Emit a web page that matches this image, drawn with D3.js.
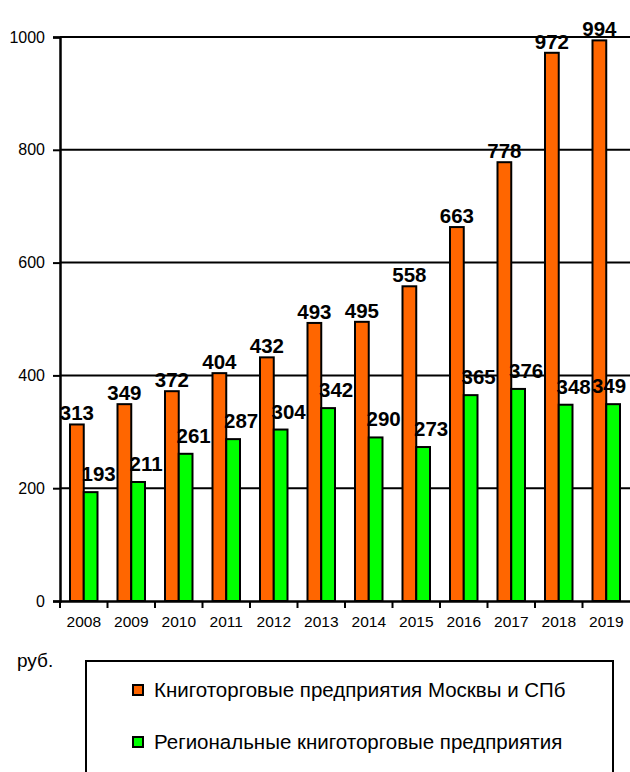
<!DOCTYPE html>
<html>
<head>
<meta charset="utf-8">
<script src="https://cdn.jsdelivr.net/npm/d3@7"></script>
<style>
  body { margin: 0; background: #fff; }
  svg { display: block; font-family: Arial, "Liberation Sans", sans-serif; }
</style>
</head>
<body>
<div id="container"></div>
<script>
var years = ["2008", "2009", "2010", "2011", "2012", "2013",
             "2014", "2015", "2016", "2017", "2018", "2019"];
var moscowValues = [313, 349, 372, 404, 432, 493, 495, 558, 663, 778, 972, 994];
var regionValues = [193, 211, 261, 287, 304, 342, 290, 273, 365, 376, 348, 349];
var seriesNames = ["Книготорговые предприятия Москвы и СПб",
                   "Региональные книготорговые предприятия"];
var seriesColors = ["#ff6600", "#00ff00"];
var yTicks = [0, 200, 400, 600, 800, 1000];
var unitLabel = "руб.";

var fontFamily = "Arial, 'Liberation Sans', sans-serif";

function createChart() {
  var chartWidth = 630, chartHeight = 772;

  var chart = d3.select("#container").
  append("svg").
  attr("width", chartWidth).
  attr("height", chartHeight);

  var x = d3.scaleBand().domain(years).range([60, 630]);
  // two bars inside each year
  var xInner = d3.scaleBand().domain([0, 1]).range([10, x.bandwidth() - 10]);
  var y = d3.scaleLinear().domain([0, 1000]).range([601, 37]);

  // gridlines
  chart.append("g").
  selectAll("line").
  data(yTicks.slice(1)).
  enter().
  append("line").
  attr("x1", 60).
  attr("x2", chartWidth).
  attr("y1", function (d) {return y(d);}).
  attr("y2", function (d) {return y(d);}).
  attr("stroke", "#000").
  attr("stroke-width", 2);

  // y axis
  var yAxis = d3.axisLeft(y).tickValues(yTicks).tickFormat(d3.format("d")).tickSize(7).tickPadding(8);
  var yg = chart.append("g").attr("transform", "translate(60,0)").call(yAxis);
  yg.attr("font-size", 16).attr("font-family", fontFamily);
  yg.select(".domain").attr("stroke-width", 2.5);
  yg.selectAll(".tick line").attr("stroke-width", 2);

  // x axis, ticks between years
  var xAxis = d3.axisBottom(x).tickSize(0).tickPadding(15);
  var xg = chart.append("g").attr("transform", "translate(0,601)").call(xAxis);
  xg.attr("font-size", 15.5).attr("font-family", fontFamily);
  xg.select(".domain").attr("stroke-width", 2.5);
  xg.selectAll(".sep").
  data(years).
  enter().
  append("line").
  attr("class", "sep").
  attr("x1", function (d) {return x(d);}).
  attr("x2", function (d) {return x(d);}).
  attr("y1", 0).
  attr("y2", 7).
  attr("stroke", "#000").
  attr("stroke-width", 2);

  // bars
  var series = [moscowValues, regionValues];
  series.forEach(function (vals, s) {
    chart.append("g").
    selectAll("rect").
    data(vals).
    enter().
    append("rect").
    attr("x", function (d, i) {return x(years[i]) + xInner(s);}).
    attr("y", function (d) {return y(d);}).
    attr("width", xInner.bandwidth()).
    attr("height", function (d) {return y(0) - y(d);}).
    attr("fill", seriesColors[s]).
    attr("stroke", "#000").
    attr("stroke-width", 2);
  });

  // value labels
  series.forEach(function (vals, s) {
    chart.append("g").
    selectAll("text").
    data(vals).
    enter().
    append("text").
    attr("x", function (d, i) {
      var cx = x(years[i]) + xInner(s) + xInner.bandwidth() / 2 + (s === 1 ? 8 : 0);
      return Math.min(cx, chartWidth - 21);
    }).
    attr("y", function (d) {return Math.max(32, y(d) - (s === 1 ? 11 : 4));}).
    attr("text-anchor", "middle").
    attr("font-size", 20.5).
    attr("font-weight", "bold").
    text(function (d) {return d;});
  });

  // unit
  chart.append("text").
  attr("x", 17).
  attr("y", 667).
  attr("font-size", 19).
  text(unitLabel);

  // legend
  var legend = chart.append("g");
  legend.append("rect").
  attr("x", 86).
  attr("y", 661).
  attr("width", 527).
  attr("height", 140).
  attr("fill", "#fff").
  attr("stroke", "#000").
  attr("stroke-width", 2);
  var items = legend.selectAll(".item").
  data(seriesNames).
  enter().
  append("g").
  attr("class", "item").
  attr("transform", function (d, i) {return "translate(133," + (685 + i * 52) + ")";});
  items.append("rect").
  attr("width", 10).
  attr("height", 10).
  attr("fill", function (d, i) {return seriesColors[i];}).
  attr("stroke", "#000").
  attr("stroke-width", 2);
  items.append("text").
  attr("x", 21).
  attr("y", 12).
  attr("font-size", 20.5).
  text(function (d) {return d;});
}

window.onload = createChart;
</script>
</body>
</html>
